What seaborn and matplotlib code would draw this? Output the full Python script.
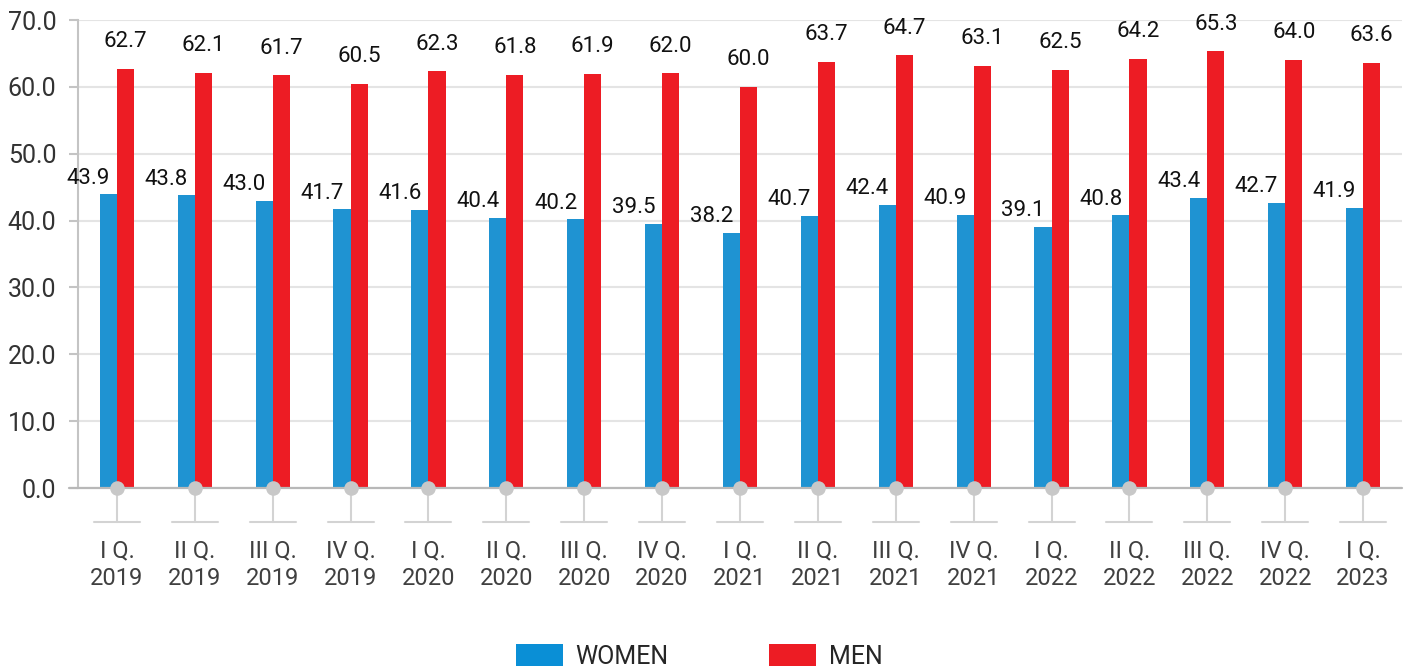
import matplotlib
matplotlib.use("Agg")
import matplotlib.pyplot as plt
import matplotlib.transforms as mtransforms
from matplotlib.patches import Patch
import seaborn as sns
import pandas as pd

quarters = ["I Q.\n2019", "II Q.\n2019", "III Q.\n2019", "IV Q.\n2019",
            "I Q.\n2020", "II Q.\n2020", "III Q.\n2020", "IV Q.\n2020",
            "I Q.\n2021", "II Q.\n2021", "III Q.\n2021", "IV Q.\n2021",
            "I Q.\n2022", "II Q.\n2022", "III Q.\n2022", "IV Q.\n2022",
            "I Q.\n2023"]
women = [43.9, 43.8, 43.0, 41.7, 41.6, 40.4, 40.2, 39.5, 38.2, 40.7, 42.4,
         40.9, 39.1, 40.8, 43.4, 42.7, 41.9]
men = [62.7, 62.1, 61.7, 60.5, 62.3, 61.8, 61.9, 62.0, 60.0, 63.7, 64.7,
       63.1, 62.5, 64.2, 65.3, 64.0, 63.6]
series = ["WOMEN", "MEN"]
yticks = [0, 10, 20, 30, 40, 50, 60, 70]

BLUE = "#1f93d2"
RED = "#ed1c24"

sns.set_theme(style="white")
plt.rcParams["font.family"] = ["Roboto", "DejaVu Sans"]

df = pd.DataFrame({
    "quarter": quarters * 2,
    "value": women + men,
    "sex": [series[0]] * len(women) + [series[1]] * len(men),
})

fig = plt.figure(figsize=(14.07, 6.70), dpi=100)
W, H = 1407, 670
ax = fig.add_axes([78 / W, (H - 488) / H, (1402 - 78) / W, 468 / H])

sns.barplot(data=df, x="quarter", y="value", hue="sex", order=quarters,
            hue_order=series, palette=[BLUE, RED], width=0.44, gap=0,
            saturation=1, legend=False, ax=ax, linewidth=0, zorder=3)

ax.set_xlim(-0.5, len(quarters) - 0.5)
ax.set_ylim(0, 70)
ax.set_yticks(yticks)
ax.set_yticklabels([f"{v:.1f}" for v in yticks], fontsize=18, color="#333333")
ax.set_xlabel("")
ax.set_ylabel("")
ax.yaxis.grid(True, color="#e4e4e4", linewidth=1.5, zorder=0)
ax.set_axisbelow(True)
for s in ["top", "right", "bottom"]:
    ax.spines[s].set_visible(False)
ax.spines["left"].set_color("#c4c4c4")
ax.spines["left"].set_linewidth(1.5)
ax.tick_params(axis="y", left=True, length=6.5, width=1.5, color="#c4c4c4",
               pad=9)
ax.tick_params(axis="x", bottom=False, length=0, pad=37)
ax.set_xticks(range(len(quarters)))
ax.set_xticklabels(quarters, fontsize=17, color="#404040", linespacing=1.25)

# baseline
trans_ax = ax.transAxes
ax.plot([-9 / 1324, 1], [0, 0], transform=trans_ax, color="#b8b8b8",
        linewidth=1.6, clip_on=False, zorder=4)

# decorative connectors under the axis
blend = mtransforms.blended_transform_factory(ax.transData, ax.transAxes)
drop = 34 / 468
for i in range(len(quarters)):
    ax.plot([i, i], [0, -drop], transform=blend, color="#d3d3d3",
            linewidth=1.5, clip_on=False, zorder=2)
    ax.plot([i - 0.295, i + 0.295], [-drop, -drop], transform=blend,
            color="#d3d3d3", linewidth=1.5, clip_on=False, zorder=2)
ax.scatter(range(len(quarters)), [0] * len(quarters), s=110, color="#c8c8c8",
           zorder=6, clip_on=False, linewidths=0)

# value labels
for i, (w, m) in enumerate(zip(women, men)):
    ax.annotate(f"{w:.1f}", xy=(i, w), xytext=(-5, 4),
                textcoords="offset points", ha="right", va="bottom",
                fontsize=16, color="#111111", zorder=7)
    ax.annotate(f"{m:.1f}", xy=(i + 0.11, m), xytext=(0, 12),
                textcoords="offset points", ha="center", va="bottom",
                fontsize=16, color="#111111", zorder=7)

handles = [Patch(facecolor="#0a8fd6", edgecolor="none"),
           Patch(facecolor=RED, edgecolor="none")]
fig.legend(handles, series, loc="upper center",
           bbox_to_anchor=(699 / W, 1 - 644 / H), ncol=2, frameon=False,
           fontsize=18, handlelength=1.9, handleheight=1.0,
           handletextpad=0.5, columnspacing=4.0, borderpad=0,
           borderaxespad=0)

fig.savefig("out.png", dpi=100)
